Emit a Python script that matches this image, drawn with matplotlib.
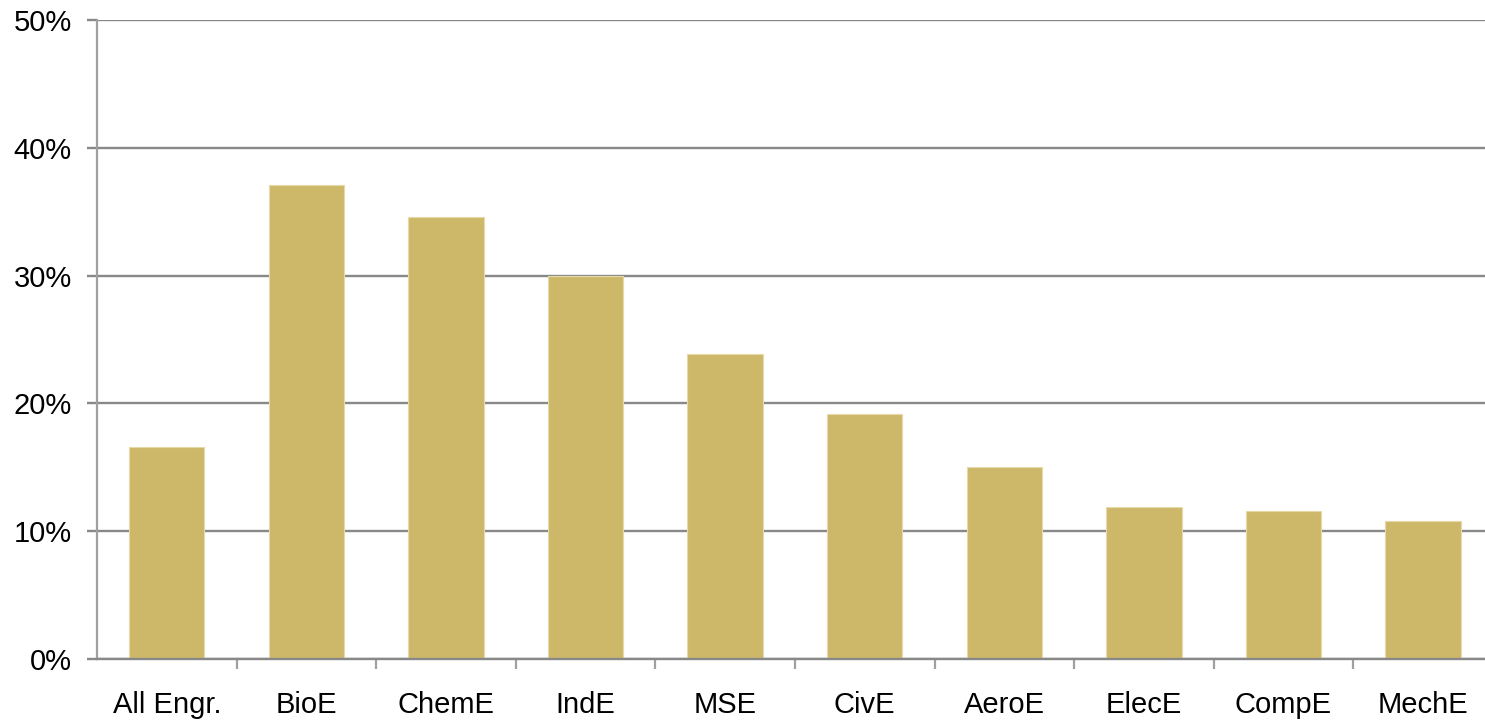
import matplotlib.pyplot as plt
from matplotlib.ticker import FuncFormatter

majors = ['All Engr.', 'BioE', 'ChemE', 'IndE', 'MSE',
          'CivE', 'AeroE', 'ElecE', 'CompE', 'MechE']
share = [16.6, 37.1, 34.6, 30.0, 23.9, 19.2, 15.0, 11.9, 11.6, 10.8]

plt.rcParams['font.family'] = ['Liberation Sans', 'DejaVu Sans']

fig = plt.figure(figsize=(14.85, 7.2), dpi=100)
ax = fig.add_axes([0.0653, 0.0847, 0.940, 0.8875])

x = range(len(majors))
ax.bar(x, share, width=0.54, color='#CDB869', edgecolor='#E6DAA8',
       linewidth=0.8, zorder=3)

ax.set_xlim(-0.5, len(majors) - 0.5)
ax.set_ylim(0, 50)
ax.set_yticks(range(0, 51, 10))
ax.yaxis.set_major_formatter(FuncFormatter(lambda v, _: f'{v:.0f}%'))
ax.yaxis.grid(True, color='#888888', linewidth=1.7, zorder=0)

# category labels in the middle, tick marks on the boundaries
ax.set_xticks(list(x))
ax.set_xticklabels(majors)
ax.tick_params(axis='x', which='major', length=0, pad=23, labelsize=21)
ax.set_xticks([i + 0.5 for i in range(len(majors) - 1)], minor=True)
ax.tick_params(axis='x', which='minor', length=7, width=1.6,
               color='#A0A0A0')
ax.tick_params(axis='y', length=7, width=1.7, color='#888888',
               pad=11, labelsize=21)

for side in ['top', 'right']:
    ax.spines[side].set_visible(False)
ax.spines['left'].set_color('#A0A0A0')
ax.spines['left'].set_linewidth(1.6)
ax.spines['bottom'].set_color('#888888')
ax.spines['bottom'].set_linewidth(1.7)
ax.spines['bottom'].set_zorder(4)

fig.savefig('out.png', dpi=100)
